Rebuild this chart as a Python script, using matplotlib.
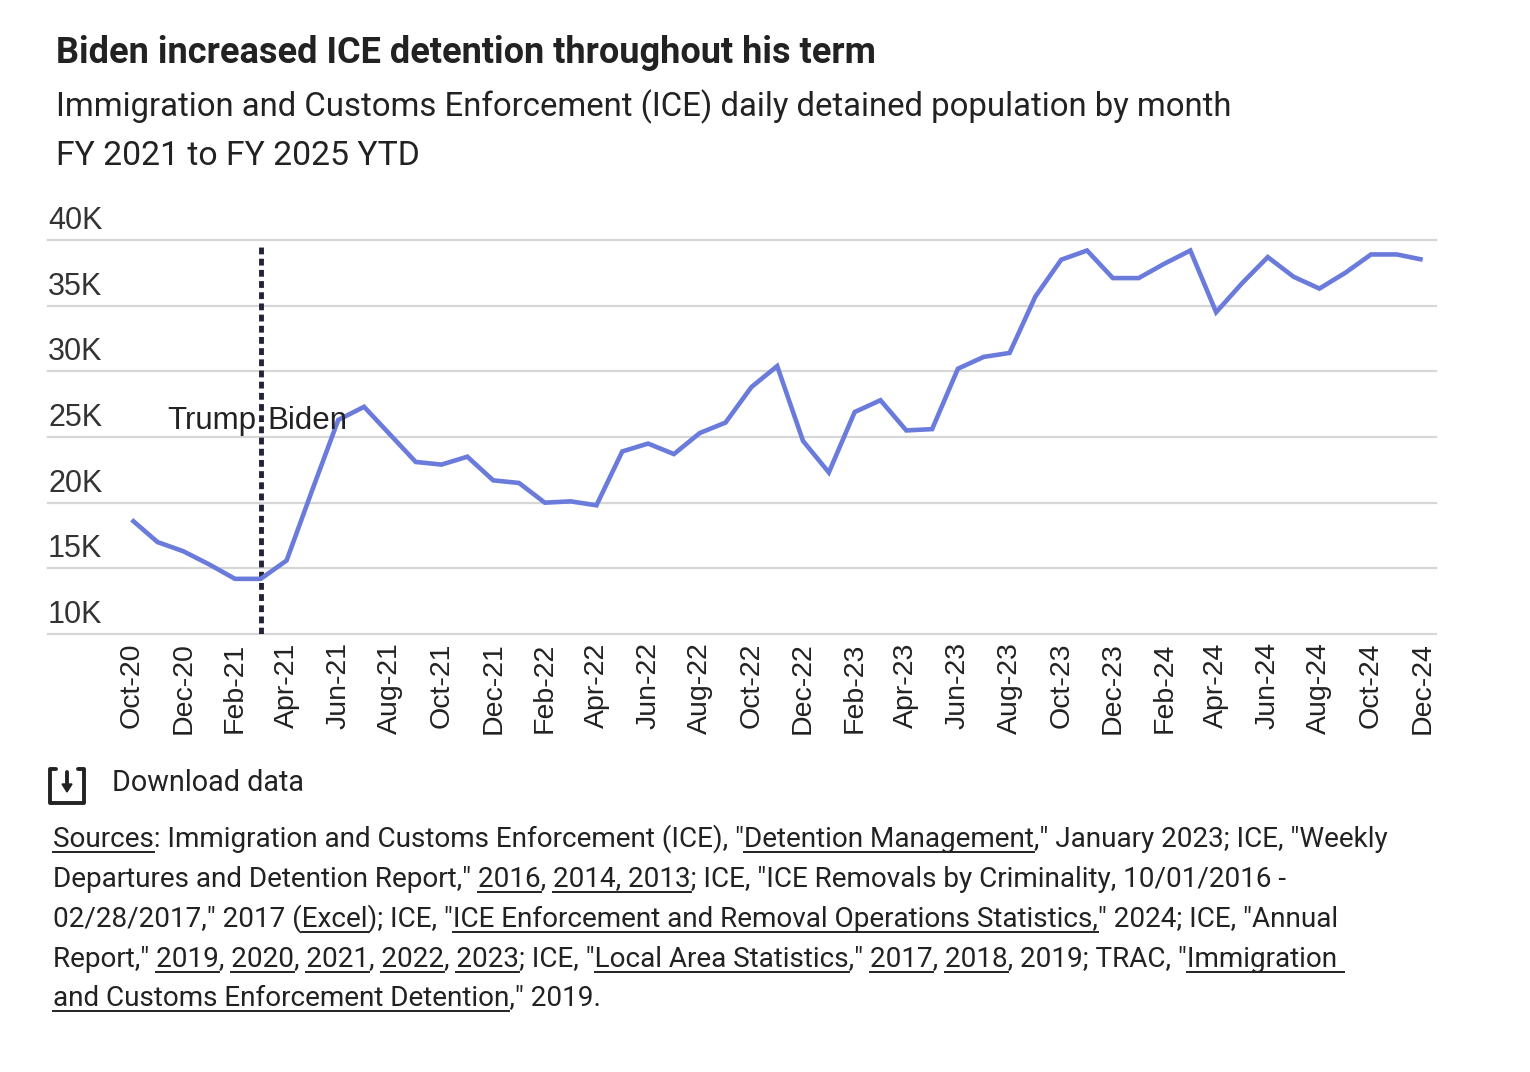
import numpy as np
import matplotlib
matplotlib.use("Agg")
import matplotlib.pyplot as plt
from matplotlib.lines import Line2D
from matplotlib.patches import Polygon
import matplotlib.transforms as mtransforms

# --- data (thousands of detainees, daily population by month) ---------------
months = [
    "Oct-20", "Nov-20", "Dec-20",
    "Jan-21", "Feb-21", "Mar-21", "Apr-21", "May-21", "Jun-21",
    "Jul-21", "Aug-21", "Sep-21", "Oct-21", "Nov-21", "Dec-21",
    "Jan-22", "Feb-22", "Mar-22", "Apr-22", "May-22", "Jun-22",
    "Jul-22", "Aug-22", "Sep-22", "Oct-22", "Nov-22", "Dec-22",
    "Jan-23", "Feb-23", "Mar-23", "Apr-23", "May-23", "Jun-23",
    "Jul-23", "Aug-23", "Sep-23", "Oct-23", "Nov-23", "Dec-23",
    "Jan-24", "Feb-24", "Mar-24", "Apr-24", "May-24", "Jun-24",
    "Jul-24", "Aug-24", "Sep-24", "Oct-24", "Nov-24", "Dec-24",
]
detained_k = [
    18.7, 17.0, 16.3,
    15.3, 14.2, 14.2, 15.6, 21.0, 26.3,
    27.3, 25.2, 23.1, 22.9, 23.5, 21.7,
    21.5, 20.0, 20.1, 19.8, 23.9, 24.5,
    23.7, 25.3, 26.1, 28.8, 30.4, 24.7,
    22.3, 26.9, 27.8, 25.5, 25.6, 30.2,
    31.1, 31.4, 35.7, 38.5, 39.2, 37.1,
    37.1, 38.2, 39.2, 34.5, 36.7, 38.7,
    37.2, 36.3, 37.5, 38.9, 38.9, 38.5,
]
y_ticks = [10, 15, 20, 25, 30, 35, 40]
transition_month = "Mar-21"

title = "Biden increased ICE detention throughout his term"
subtitle = "Immigration and Customs Enforcement (ICE) daily detained population by month"
subtitle2 = "FY 2021 to FY 2025 YTD"

# source lines as (text, underlined) segments
source_lines = [
    [("Sources", True), (": Immigration and Customs Enforcement (ICE), \"", False),
     ("Detention Management", True), (",\" January 2023; ICE, \"Weekly", False)],
    [("Departures and Detention Report,\" ", False), ("2016", True), (", ", False),
     ("2014, 2013", True), ("; ICE, \"ICE Removals by Criminality, 10/01/2016 -", False)],
    [("02/28/2017,\" 2017 (", False), ("Excel", True), ("); ICE, \"", False),
     ("ICE Enforcement and Removal Operations Statistics,", True),
     ("\" 2024; ICE, \"Annual", False)],
    [("Report,\" ", False), ("2019", True), (", ", False), ("2020", True), (", ", False),
     ("2021", True), (", ", False), ("2022", True), (", ", False), ("2023", True),
     ("; ICE, \"", False), ("Local Area Statistics", True), (",\" ", False),
     ("2017", True), (", ", False), ("2018", True), (", 2019; TRAC, \"", False),
     ("Immigration ", True)],
    [("and Customs Enforcement Detention", True), (",\" 2019.", False)],
]

# --- style -------------------------------------------------------------------
W, H = 1530, 1072
LINE_COLOR = "#6a7bdc"
GRID_COLOR = "#d6d6d6"
TEXT_COLOR = "#222222"
BODY_FONT = ["Roboto", "DejaVu Sans"]
TICK_FONT = ["Liberation Sans", "DejaVu Sans"]


def fx(px):
    return px / W


def fy(py):
    return 1 - py / H


fig = plt.figure(figsize=(W / 100, H / 100), dpi=100)
fig.patch.set_facecolor("white")

ax = fig.add_axes([fx(48), fy(634), fx(1436) - fx(48), fy(240) - fy(634)])
x = np.arange(len(months))
px_per_month = (1422.7 - 131.7) / (len(months) - 1)

ax.plot(x, detained_k, color=LINE_COLOR, lw=3.3, solid_joinstyle="miter",
        solid_capstyle="butt", zorder=3)

ax.set_xlim(-(131.7 - 48) / px_per_month, len(months) - 1 + (1436 - 1422.7) / px_per_month)
ax.set_ylim(y_ticks[0], y_ticks[-1])

# horizontal grid, labels sitting on top of each line
ax.set_yticks(y_ticks)
ax.yaxis.grid(True, color=GRID_COLOR, lw=1.6)
for gl in ax.get_ygridlines():
    gl.set_clip_on(False)
ax.tick_params(axis="y", length=0, labelleft=False)
label_tf = mtransforms.blended_transform_factory(ax.transAxes, ax.transData)
for v in y_ticks:
    ax.annotate(f"{v}K", xy=(0, v), xycoords=label_tf, xytext=(0, 11),
                textcoords="offset pixels", ha="left", va="baseline",
                fontsize=22, color="#333333", family=TICK_FONT)

ax.set_xticks(x[::2])
ax.set_xticklabels(months[::2], rotation=90, fontsize=20.5, color=TEXT_COLOR,
                   family=TICK_FONT, va="top", ha="center")
ax.tick_params(axis="x", length=0, pad=6)

for s in ax.spines.values():
    s.set_visible(False)

# Trump / Biden divider
xi = months.index(transition_month)
ax.axvline(xi, ymin=0, ymax=(634 - 245) / (634 - 240), color="#222238", lw=3.5,
           linestyle=(0, (1.4, 0.9)), zorder=2)
ax.annotate("Trump", xy=(xi, 25.6), xytext=(-5, 0), textcoords="offset pixels",
            ha="right", va="baseline", fontsize=22.5, color=TEXT_COLOR, family=TICK_FONT)
ax.annotate("Biden", xy=(xi, 25.6), xytext=(7, 0), textcoords="offset pixels",
            ha="left", va="baseline", fontsize=22.5, color=TEXT_COLOR, family=TICK_FONT)

# --- titles ------------------------------------------------------------------
fig.text(fx(56), fy(63), title, fontsize=26, weight="bold", color=TEXT_COLOR,
         family=BODY_FONT, va="baseline")
fig.text(fx(56), fy(116), subtitle, fontsize=23.7, color=TEXT_COLOR,
         family=BODY_FONT, va="baseline")
fig.text(fx(56), fy(165), subtitle2, fontsize=24.3, color=TEXT_COLOR,
         family=BODY_FONT, va="baseline")

# --- download icon + label -----------------------------------------------------
icon_kw = dict(color="#222222", lw=2.8, solid_capstyle="round", solid_joinstyle="round",
               transform=fig.transFigure)
fig.add_artist(Line2D([fx(56), fx(50), fx(50), fx(84), fx(84), fx(78)],
                      [fy(769), fy(769), fy(803), fy(803), fy(769), fy(769)], **icon_kw))
fig.add_artist(Line2D([fx(67), fx(67)], [fy(772), fy(786)], **icon_kw))
fig.add_artist(Polygon([[fx(62), fy(784)], [fx(72), fy(784)], [fx(67), fy(792)]],
                       closed=True, color="#222222", transform=fig.transFigure))
fig.text(fx(112), fy(791), "Download data", fontsize=20.7, color=TEXT_COLOR,
         family=BODY_FONT, va="baseline")

# --- sources with underlined links ----------------------------------------------
renderer = fig.canvas.get_renderer()
src_size = 20.1
baselines = [847, 887, 927, 967, 1006]


def text_width(s):
    t = fig.text(0, 0, s, fontsize=src_size, family=BODY_FONT)
    w = t.get_window_extent(renderer).width
    t.remove()
    return w


for segs, base in zip(source_lines, baselines):
    full = "".join(s for s, _ in segs)
    fig.text(fx(53), fy(base), full, fontsize=src_size, color=TEXT_COLOR,
             family=BODY_FONT, va="baseline")
    pos = ""
    for s, under in segs:
        if under:
            x0 = 53 + (text_width(pos) if pos else 0)
            x1 = 53 + text_width(pos + s)
            fig.add_artist(Line2D([fx(x0), fx(x1)], [fy(base + 5), fy(base + 5)],
                                  color=TEXT_COLOR, lw=1.4, transform=fig.transFigure))
        pos += s

fig.savefig("out.png", dpi=100, facecolor="white")
